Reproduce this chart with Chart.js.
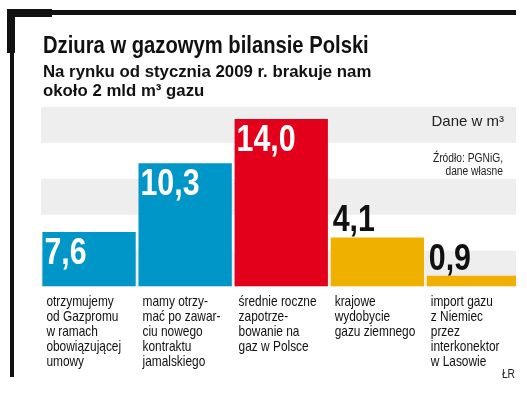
<!DOCTYPE html>
<html>
<head>
<meta charset="utf-8">
<script src="https://cdn.jsdelivr.net/npm/chart.js@4.4.1/dist/chart.umd.min.js"></script>
<style>
    html, body { margin: 0; padding: 0; background: #fff; }
    #chart { display: block; }
</style>
</head>
<body>
<canvas id="chart" width="527" height="398"></canvas>
<script>
// Category descriptions (one entry per bar, split into printed lines)
const categories = [
    ['otrzymujemy', 'od Gazpromu', 'w ramach', 'obowiązującej', 'umowy'],
    ['mamy otrzy-', 'mać po zawar-', 'ciu nowego', 'kontraktu', 'jamalskiego'],
    ['średnie roczne', 'zapotrze-', 'bowanie na', 'gaz w Polsce'],
    ['krajowe', 'wydobycie', 'gazu ziemnego'],
    ['import gazu', 'z Niemiec', 'przez', 'interkonektor', 'w Lasowie']
];

// Values printed on the bars (mld m3)
const values = [7.6, 10.3, 14.0, 4.1, 0.9];

// Bar heights as drawn in the original graphic (the 7,6 bar is drawn short there)
const barHeights = [4.55, 10.3, 14.0, 4.1, 0.9];

// Grey background stripes, in axis units
const bandRanges = [[0, 3], [6, 9], [12, 15]];

const title = 'Dziura w gazowym bilansie Polski';
const subtitle = ['Na rynku od stycznia 2009 r. brakuje nam', 'około 2 mld m³ gazu'];
const unitNote = 'Dane w m³';
const sourceNote = ['Źródło: PGNiG,', 'dane własne'];
const author = 'ŁR';

const SANS = '"Liberation Sans", Arial, sans-serif';
const NARROW = 0.82; // no narrow face installed, so squeeze the regular one

function fmt(v) {
    return v.toFixed(1).replace('.', ',');
}

// draw text squeezed horizontally
function narrowText(ctx, text, x, y, squeeze) {
    ctx.save();
    ctx.translate(x, y);
    ctx.scale(squeeze, 1);
    ctx.fillText(text, 0, 0);
    ctx.restore();
}

// stripes behind the bars
const bandsPlugin = {
    id: 'bands',
    beforeDatasetsDraw(chart) {
        const ctx = chart.ctx;
        const y = chart.scales.y;
        const area = chart.chartArea;
        ctx.save();
        ctx.fillStyle = '#eeeeee';
        bandRanges.forEach(r => {
            const top = y.getPixelForValue(r[1]);
            const bottom = y.getPixelForValue(r[0]);
            ctx.fillRect(area.left, top, area.right - area.left - 5.5, bottom - top);
        });
        ctx.restore();
    }
};

// frame, titles, value labels and category texts
const textPlugin = {
    id: 'texts',
    afterDraw(chart) {
        const ctx = chart.ctx;
        const area = chart.chartArea;
        const meta = chart.getDatasetMeta(0);
        ctx.save();

        // black frame
        ctx.fillStyle = '#111';
        ctx.fillRect(7, 9, 45, 8);
        ctx.fillRect(52, 10, 464, 5);
        ctx.fillRect(7, 9, 8, 44);
        ctx.fillRect(10, 53, 4, 324);

        // title + subtitle
        ctx.textAlign = 'left';
        ctx.textBaseline = 'alphabetic';
        ctx.fillStyle = '#111';
        ctx.font = 'bold 24.5px ' + SANS;
        narrowText(ctx, title, 43, 53, 0.825);
        ctx.font = 'bold 16.8px ' + SANS;
        ctx.fillText(subtitle[0], 43, 77);
        ctx.fillText(subtitle[1], 43, 95.5);

        // notes on the right
        ctx.textAlign = 'right';
        ctx.fillStyle = '#222';
        ctx.font = '15px ' + SANS;
        ctx.fillText(unitNote, 504, 126);
        ctx.font = '12.5px ' + SANS;
        narrowText(ctx, sourceNote[0], 503, 161.5, NARROW);
        narrowText(ctx, sourceNote[1], 503, 174.5, NARROW);
        narrowText(ctx, author, 515, 378, NARROW);

        // value labels
        ctx.textAlign = 'left';
        ctx.font = 'bold 37px ' + SANS;
        meta.data.forEach((bar, i) => {
            const left = bar.x - bar.width / 2;
            if (values[i] >= 5) {
                ctx.fillStyle = '#ffffff';
                narrowText(ctx, fmt(values[i]), left + 2, bar.y + 32, NARROW);
            } else {
                ctx.fillStyle = '#111';
                narrowText(ctx, fmt(values[i]), left + 2, bar.y - 6, NARROW);
            }
        });

        // category descriptions under the bars
        ctx.fillStyle = '#111';
        ctx.font = '14.5px ' + SANS;
        meta.data.forEach((bar, i) => {
            const left = bar.x - bar.width / 2;
            categories[i].forEach((line, j) => {
                narrowText(ctx, line, left + 4, area.bottom + 19.5 + j * 15, NARROW);
            });
        });

        ctx.restore();
    }
};

const ctx = document.getElementById('chart').getContext('2d');
new Chart(ctx, {
    type: 'bar',
    data: {
        labels: categories,
        datasets: [{
            data: barHeights,
            backgroundColor: ['#0096c8', '#0096c8', '#e2001a', '#f0b000', '#f0b000'],
            borderWidth: 0,
            barPercentage: 1,
            categoryPercentage: 0.971,
            clip: { left: 0, top: 0, right: -5.5, bottom: 0 }
        }]
    },
    options: {
        responsive: false,
        animation: false,
        devicePixelRatio: 1,
        events: [],
        layout: {
            padding: { left: 41, right: 5.5, top: 107, bottom: 111.5 }
        },
        scales: {
            x: { display: false },
            y: { display: false, min: 0, max: 15 }
        },
        plugins: {
            legend: { display: false },
            tooltip: { enabled: false }
        }
    },
    plugins: [bandsPlugin, textPlugin]
});
</script>
</body>
</html>
